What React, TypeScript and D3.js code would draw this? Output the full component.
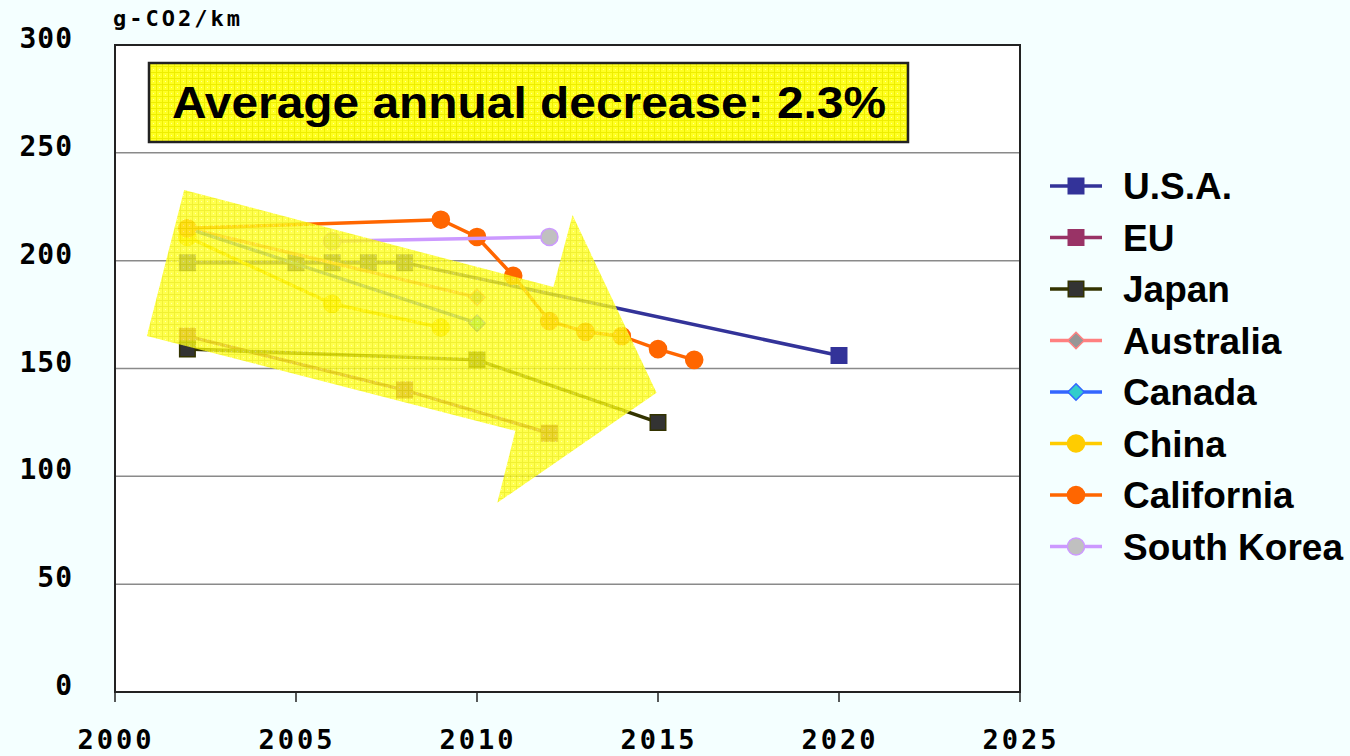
import React from 'react';
import * as d3 from 'd3';

// series values (g-CO2/km)
const usaYears = [2002, 2005, 2006, 2007, 2008, 2020];
const usaValues = [199, 199, 199, 199, 199, 156];
const euYears = [2002, 2008, 2012];
const euValues = [165, 140, 120];
const japanYears = [2002, 2010, 2015];
const japanValues = [159, 154, 125];
const australiaYears = [2002, 2010];
const australiaValues = [215, 183];
const canadaYears = [2002, 2010];
const canadaValues = [215, 171];
const chinaYears = [2002, 2006, 2009];
const chinaValues = [211, 180, 169];
const californiaYears = [2002, 2009, 2010, 2011, 2012, 2013, 2014, 2015, 2016];
const californiaValues = [215, 219, 211, 193, 172, 167, 165, 159, 154];
const koreaYears = [2006, 2012];
const koreaValues = [209, 211];

const xTicks = [2000, 2005, 2010, 2015, 2020, 2025];
const yTicks = [0, 50, 100, 150, 200, 250, 300];

// arrow outline, in data units (year, value)
const arrowPts: [number, number][] = [
  [2001.91, 232.8], [2012.11, 187.8], [2012.64, 221.2], [2014.96, 138.7],
  [2010.56, 87.7], [2011.06, 121.1], [2000.88, 165.1],
];

type Series = {
  name: string; years: number[]; values: number[];
  line: string; fill: string; stroke: string; shape: d3.SymbolType; size: number;
};

const series: Series[] = [
  { name: 'U.S.A.', years: usaYears, values: usaValues, line: '#333399', fill: '#333399', stroke: '#333399', shape: d3.symbolSquare, size: 240 },
  { name: 'EU', years: euYears, values: euValues, line: '#993366', fill: '#993366', stroke: '#993366', shape: d3.symbolSquare, size: 240 },
  { name: 'Japan', years: japanYears, values: japanValues, line: '#333300', fill: '#333333', stroke: '#333300', shape: d3.symbolSquare, size: 240 },
  { name: 'Australia', years: australiaYears, values: australiaValues, line: '#FF8080', fill: '#969696', stroke: '#FF8080', shape: d3.symbolDiamond2, size: 170 },
  { name: 'Canada', years: canadaYears, values: canadaValues, line: '#3366FF', fill: '#33CCCC', stroke: '#3366FF', shape: d3.symbolDiamond2, size: 170 },
  { name: 'China', years: chinaYears, values: chinaValues, line: '#FFCC00', fill: '#FFCC00', stroke: '#FFCC00', shape: d3.symbolCircle, size: 230 },
  { name: 'California', years: californiaYears, values: californiaValues, line: '#FF6600', fill: '#FF6600', stroke: '#FF6600', shape: d3.symbolCircle, size: 230 },
  { name: 'South Korea', years: koreaYears, values: koreaValues, line: '#CC99FF', fill: '#C0C0C0', stroke: '#CC99FF', shape: d3.symbolCircle, size: 230 },
];

const W = 1350, H = 756;
const left = 115, right = 1020, top = 45, bottom = 692;

export default function App() {
  const x = d3.scaleLinear().domain([2000, 2025]).range([left, right]);
  const y = d3.scaleLinear().domain([0, 300]).range([bottom, top]);
  const line = d3.line<[number, number]>().x(d => x(d[0])).y(d => y(d[1]));
  const arrowPath = d3.line<[number, number]>().x(d => x(d[0])).y(d => y(d[1]))(arrowPts) + 'Z';

  const monoFont = '"DejaVu Sans Mono", monospace';

  return (
    <svg width={W} height={H} style={{ position: 'absolute', left: 0, top: 0 }} fontFamily="Liberation Sans, Arial, sans-serif">
      <defs>
        <pattern id="yel" width="6" height="6" patternUnits="userSpaceOnUse">
          <rect width="6" height="6" fill="#FFFF22" />
          <path d="M0 0.5H6M0.5 0V6" stroke="#EEEE00" strokeWidth="1" />
          <rect x="3" y="3" width="1" height="1" fill="#FFFF99" />
        </pattern>
      </defs>
      <rect width={W} height={H} fill="#F4FFFF" />
      <rect x={left} y={top} width={right - left} height={bottom - top} fill="#fff" />

      {yTicks.filter(t => t > 0 && t < 300).map(t => (
        <line key={t} x1={left} x2={right} y1={y(t)} y2={y(t)} stroke="#8a8a8a" strokeWidth={1.5} />
      ))}
      <rect x={left} y={top} width={right - left} height={bottom - top} fill="none" stroke="#222" strokeWidth={2} />
      {xTicks.map(t => (
        <line key={t} x1={x(t)} x2={x(t)} y1={bottom} y2={bottom + 10} stroke="#222" strokeWidth={1.5} />
      ))}

      {yTicks.map(t => (
        <text key={t} x={73} y={y(t) + 3} textAnchor="end" fontFamily={monoFont} fontSize={28} fontWeight="bold" letterSpacing={1} fill="#000">{t}</text>
      ))}
      {xTicks.map(t => (
        <text key={t} x={x(t) + 1} y={749} textAnchor="middle" fontFamily={monoFont} fontSize={27} fontWeight="bold" letterSpacing={3} fill="#000">{t}</text>
      ))}
      <text x={113} y={26} fontFamily={monoFont} fontSize={22} fontWeight="bold" letterSpacing={3} fill="#000">g-CO2/km</text>

      {series.map(s => {
        const pts = s.years.map((yr, i) => [yr, s.values[i]] as [number, number]);
        return (
          <g key={s.name}>
            <path d={line(pts) || ''} fill="none" stroke={s.line} strokeWidth={3.5} />
            {pts.map((p, i) => (
              <path key={i} d={d3.symbol().type(s.shape).size(s.size)() || ''}
                transform={`translate(${x(p[0])},${y(p[1])})`} fill={s.fill} stroke={s.stroke} strokeWidth={1.5} />
            ))}
          </g>
        );
      })}

      <path d={arrowPath} fill="url(#yel)" opacity={0.8} />

      <rect x={149} y={63} width={759} height={79} fill="url(#yel)" stroke="#222" strokeWidth={2.5} />
      <text x={529} y={118} textAnchor="middle" fontSize={44} fontWeight="bold" textLength={714} lengthAdjust="spacingAndGlyphs" fill="#000">
        Average annual decrease: 2.3%
      </text>

      {series.map((s, i) => {
        const ly = 186 + i * 51.5;
        return (
          <g key={s.name}>
            <line x1={1050} x2={1102} y1={ly} y2={ly} stroke={s.line} strokeWidth={3.5} />
            <path d={d3.symbol().type(s.shape).size(s.size)() || ''} transform={`translate(1076,${ly})`}
              fill={s.fill} stroke={s.stroke} strokeWidth={1.5} />
            <text x={1123} y={ly + 13} fontSize={37} fontWeight="bold" fill="#000">{s.name}</text>
          </g>
        );
      })}
    </svg>
  );
}
